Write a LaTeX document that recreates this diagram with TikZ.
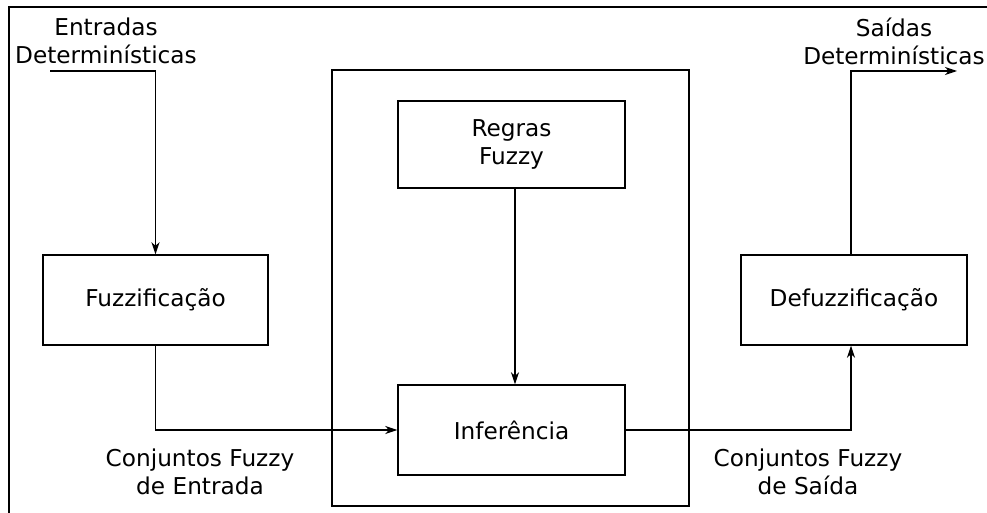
\documentclass[tikz,border=0pt]{standalone}
\usepackage{fontspec}
\setmainfont{DejaVu Sans}
\usetikzlibrary{arrows.meta}
\begin{document}
\begin{tikzpicture}[x=1pt,y=-1pt,
  line width=1.4pt,
  every node/.style={font=\fontsize{23.2}{28}\selectfont, align=center},
  blockbox/.style={draw, rectangle, inner sep=0pt},
  arr/.style={-{Stealth[length=12pt,width=8pt,inset=3.5pt]}},
  lbl/.style={inner sep=0pt}]
  \useasboundingbox (0,0) rectangle (987,513);
  % outer frame (left and top edges)
  \draw (9,513) -- (9,7) -- (987,7);

  % blocks
  \node[blockbox, minimum width=225pt, minimum height=90pt] (fuzz) at (155.5,300) {Fuzzifica\c{c}\~ao};
  \node[blockbox, minimum width=357pt, minimum height=436pt] (motor) at (510.5,288) {};
  \node[blockbox, minimum width=227pt, minimum height=87pt] (regras) at (511.5,144.5) {Regras\\Fuzzy};
  \node[blockbox, minimum width=227pt, minimum height=90pt] (inf) at (511.5,430) {Infer\^encia};
  \node[blockbox, minimum width=226pt, minimum height=90pt] (defuzz) at (854,300) {Defuzzifica\c{c}\~ao};

  % labels
  \node[lbl] (entradas) at (106,41) {Entradas\\Determin\'isticas};
  \node[lbl] (saidas) at (894,41) {Sa\'idas\\Determin\'isticas};
  \node[lbl] (cfe) at (200,472) {Conjuntos Fuzzy\\de Entrada};
  \node[lbl] (cfs) at (808,472) {Conjuntos Fuzzy\\de Sa\'ida};

  % connectors
  \coordinate (in1) at (50,71);
  \coordinate (out1) at (957,71);
  \draw[arr] (in1) -| (fuzz.north);
  \draw[arr] (fuzz.south) |- (inf.west);
  \draw[arr] ([xshift=3.5pt]regras.south) -- ([xshift=3.5pt]inf.north);
  \draw[arr] (inf.east) -| ([xshift=-3pt]defuzz.south);
  \draw[arr] ([xshift=-3pt]defuzz.north) |- (out1);
\end{tikzpicture}
\end{document}
